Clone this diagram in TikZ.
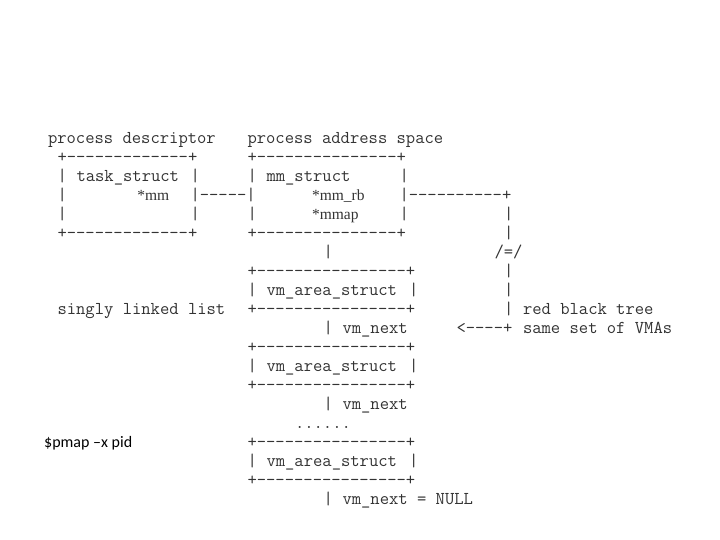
\documentclass[tikz,border=0pt]{standalone}
\usepackage{fontspec}
\usetikzlibrary{positioning}
\newfontfamily\slidefont{Carlito}
\newfontfamily\ptrfont{Liberation Serif}
\colorlet{ink}{black!80}
\newcommand{\asciifont}{\ttfamily\fontsize{18.1bp}{19bp}\selectfont}
% a run of dashes, kerned apart so no en/em dash ligature forms
\newcommand{\dsh}[1]{\foreach\k in {1,...,#1}{-\kern0pt}}

\begin{document}
\begin{tikzpicture}[x=9.5bp,y=-19bp,
  asc/.style={anchor=base west,inner sep=0,outer sep=0,text=ink,font=\asciifont},
  ptr/.style={anchor=base west,inner sep=0,outer sep=0,text=ink,
    font=\ptrfont\fontsize{15.5bp}{17bp}\selectfont},
]
  \useasboundingbox (0bp,0bp) rectangle (720bp,-540bp);

  \begin{scope}[shift={(48bp,-143bp)}]
  % titles
  \node[asc] (pdesc) at (0,0) {process descriptor};
  \node[asc] (paddr) at (21,0) {process address space};

  % task_struct box
  \node[asc] (tsTop) at (1,1) {+\dsh{13}+};
  \node[asc] (tsL2) at (1,2) {|};
  \node[asc] (tsName) at (3,2) {task\_struct};
  \node[asc] (tsR2) at (15,2) {|};
  \node[asc] (tsL3) at (1,3) {|};
  \node[ptr] (tsMm) at (9.4,3) {*mm};
  \node[asc] (tsLink) at (15,3) {|\dsh{5}|};
  \node[asc] (tsL4) at (1,4) {|};
  \node[asc] (tsR4) at (15,4) {|};
  \node[asc] (tsBot) at (1,5) {+\dsh{13}+};

  % mm_struct box
  \node[asc] (mmTop) at (21,1) {+\dsh{15}+};
  \node[asc] (mmL2) at (21,2) {|};
  \node[asc] (mmName) at (23,2) {mm\_struct};
  \node[asc] (mmR2) at (37,2) {|};
  \node[ptr] (mmRb) at (27.8,3) {*mm\_rb};
  \node[asc] (mmLink) at (37,3) {|\dsh{10}+};
  \node[asc] (mmL4) at (21,4) {|};
  \node[ptr] (mmMap) at (27.8,4) {*mmap};
  \node[asc] (mmR4) at (37,4) {|};
  \node[asc] (mmBot) at (21,5) {+\dsh{15}+};
  \node[asc] (mmDown) at (29,6) {|};

  % red black tree side
  \node[asc] (rb4) at (48,4) {|};
  \node[asc] (rb5) at (48,5) {|};
  \node[asc] (rbCut) at (47,6) {/=/};
  \node[asc] (rb7) at (48,7) {|};
  \node[asc] (rb8) at (48,8) {|};
  \node[asc] (rb9) at (48,9) {|};
  \node[asc] (rbLabel) at (50,9) {red black tree};
  \node[asc] (rbArrow) at (43,10) {<\dsh{4}+};
  \node[asc] (rbSame) at (50,10) {same set of VMAs};

  % singly linked list of VMAs
  \node[asc] (sll) at (1,9) {singly linked list};

  \node[asc] (vmaTopA) at (21,7) {+\dsh{16}+};
  \node[asc] (vmaLA) at (21,8) {|};
  \node[asc] (vmaNameA) at (23,8) {vm\_area\_struct};
  \node[asc] (vmaRA) at (38,8) {|};
  \node[asc] (vmaBotA) at (21,9) {+\dsh{16}+};
  \node[asc] (nxtBarA) at (29,10) {|};
  \node[asc] (nxtA) at (31,10) {vm\_next};

  \node[asc] (vmaTopB) at (21,11) {+\dsh{16}+};
  \node[asc] (vmaLB) at (21,12) {|};
  \node[asc] (vmaNameB) at (23,12) {vm\_area\_struct};
  \node[asc] (vmaRB) at (38,12) {|};
  \node[asc] (vmaBotB) at (21,13) {+\dsh{16}+};
  \node[asc] (nxtBarB) at (29,14) {|};
  \node[asc] (nxtB) at (31,14) {vm\_next};

  \node[asc] (dots) at (26,15) {......};

  \node[asc] (vmaTopC) at (21,16) {+\dsh{16}+};
  \node[asc] (vmaLC) at (21,17) {|};
  \node[asc] (vmaNameC) at (23,17) {vm\_area\_struct};
  \node[asc] (vmaRC) at (38,17) {|};
  \node[asc] (vmaBotC) at (21,18) {+\dsh{16}+};
  \node[asc] (nxtBarC) at (29,19) {|};
  \node[asc] (nxtC) at (31,19) {vm\_next = NULL};
  \end{scope}

  % shell command
  \node[anchor=base west,inner sep=0,text=black,font=\slidefont\fontsize{16bp}{18bp}\selectfont]
    (cmd) at (44bp,-447bp) {\$pmap –x pid};
\end{tikzpicture}
\end{document}
